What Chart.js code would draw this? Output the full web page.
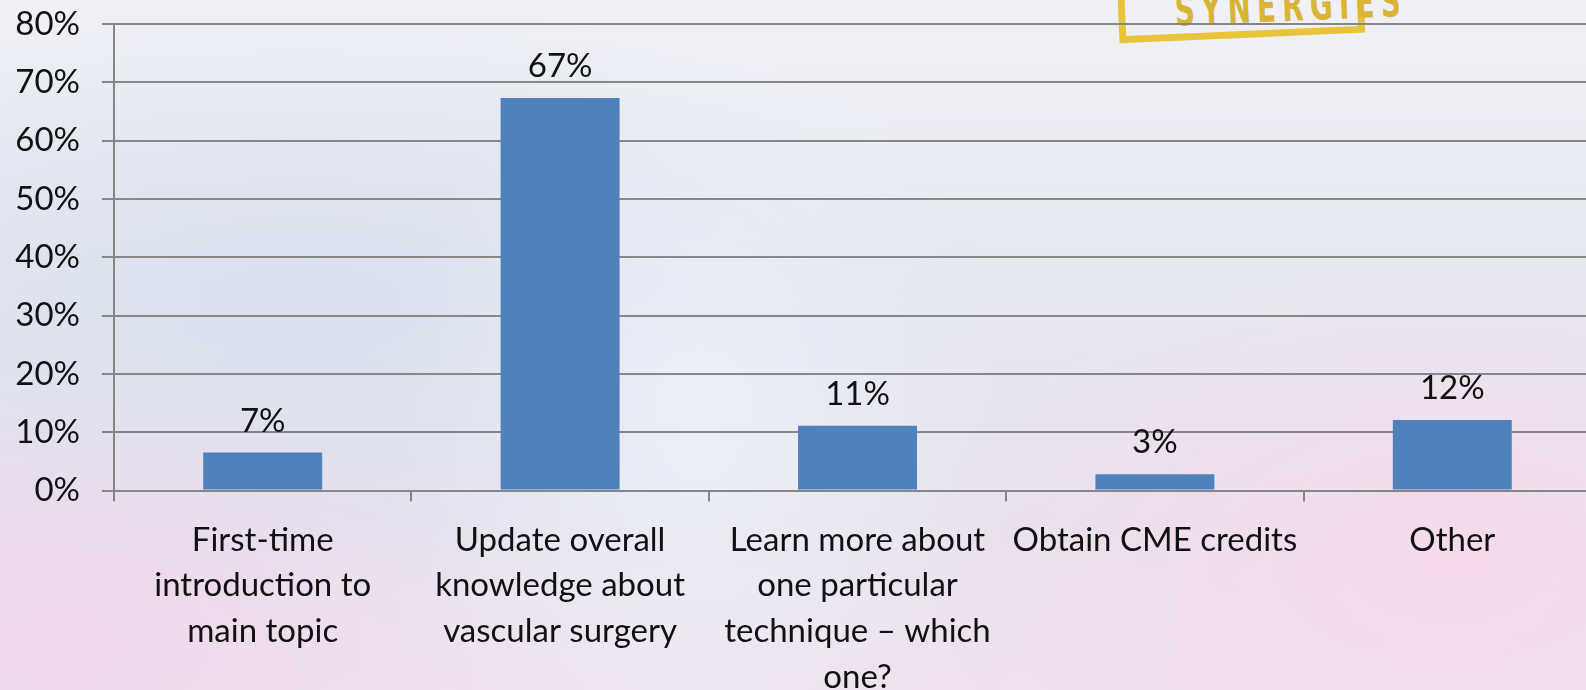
<!DOCTYPE html>
<html>
<head>
<meta charset="utf-8">
<script src="https://cdn.jsdelivr.net/npm/chart.js@4.4.0/dist/chart.umd.min.js"></script>
<style>
  html, body { margin: 0; padding: 0; width: 1586px; height: 690px; overflow: hidden; }
  body {
    position: relative;
    background:
      radial-gradient(ellipse 420px 260px at 60px 640px, rgba(240,214,236,0.9), rgba(240,214,236,0) 100%),
      radial-gradient(ellipse 520px 300px at 1450px 560px, rgba(246,218,236,0.95), rgba(246,218,236,0) 100%),
      radial-gradient(ellipse 300px 400px at 700px 420px, rgba(236,242,250,0.8), rgba(236,242,250,0) 100%),
      radial-gradient(ellipse 700px 300px at 300px 300px, rgba(214,222,238,0.8), rgba(214,222,238,0) 100%),
      linear-gradient(180deg, #f0f1f6 0%, #e6e8f0 40%, #e8e2ee 75%, #efe2ee 100%);
  }
  #logo {
    position: absolute; left: 1118px; top: -28px; width: 246px; height: 66px;
    border: 7px solid #e8c43a; box-sizing: border-box;
    transform: rotate(-2.5deg);
    font-family: "DejaVu Sans Condensed", "Liberation Sans Narrow", sans-serif; font-weight: bold;
    color: #d9b437; font-size: 44px; letter-spacing: 9px; text-align: center; line-height: 58px;
  }
  #logo span { display: inline-block; transform: scaleX(0.7); }
  #wrap { position: absolute; left: 0; top: 0; }
</style>
</head>
<body>
<div id="logo"><span>SYNERGIES</span></div>
<div id="wrap"><canvas id="chart" width="1601" height="690"></canvas></div>
<script>
const categories = [
  ["First-time", "introduction to", "main topic"],
  ["Update overall", "knowledge about", "vascular surgery"],
  ["Learn more about", "one particular", "technique – which", "one?"],
  ["Obtain CME credits"],
  ["Other"]
];
const values = [6.5, 67.3, 11.1, 2.8, 12.1];
const valueLabels = ["7%", "67%", "11%", "3%", "12%"];
const yTicks = [0, 10, 20, 30, 40, 50, 60, 70, 80];

const FONT = "Lato, 'Open Sans', sans-serif";

const barLabels = {
  id: "barLabels",
  afterDatasetsDraw(chart) {
    const ctx = chart.ctx;
    const meta = chart.getDatasetMeta(0);
    ctx.save();
    ctx.font = "33px " + FONT;
    ctx.fillStyle = "#111";
    ctx.textAlign = "center";
    ctx.textBaseline = "alphabetic";
    meta.data.forEach((bar, i) => {
      ctx.fillText(valueLabels[i], bar.x, bar.y - 21);
    });
    ctx.restore();
  }
};

new Chart(document.getElementById("chart"), {
  type: "bar",
  data: {
    labels: categories,
    datasets: [{
      data: values,
      backgroundColor: "#4f81bd",
      borderWidth: 0,
      barPercentage: 0.4,
      categoryPercentage: 1.0
    }]
  },
  options: {
    responsive: false,
    animation: false,
    layout: { padding: { top: 24, right: 0, left: 0, bottom: 0 } },
    plugins: { legend: { display: false }, tooltip: { enabled: false } },
    scales: {
      x: {
        grid: { offset: true, drawOnChartArea: false, drawTicks: true, tickLength: 11, color: "#868686", lineWidth: 2 },
        border: { display: false },
        ticks: { color: "#111", font: { family: FONT, size: 33, lineHeight: 1.38 }, padding: 16, maxRotation: 0, autoSkip: false },
        afterFit(scale) { scale.height = 199.5; scale.paddingLeft = 0; scale.paddingRight = 0; }
      },
      y: {
        min: 0, max: 80,
        afterBuildTicks(scale) { scale.ticks = yTicks.map(v => ({ value: v })); },
        grid: { color: "#868686", lineWidth: 2, tickLength: 12 },
        border: { display: true, color: "#868686", width: 2 },
        ticks: { color: "#111", font: { family: FONT, size: 33 }, padding: 22, callback: v => v + "%" },
        afterFit(scale) { scale.width = 114; scale.paddingTop = 0; scale.paddingBottom = 0; }
      }
    }
  },
  plugins: [barLabels]
});
</script>
</body>
</html>
